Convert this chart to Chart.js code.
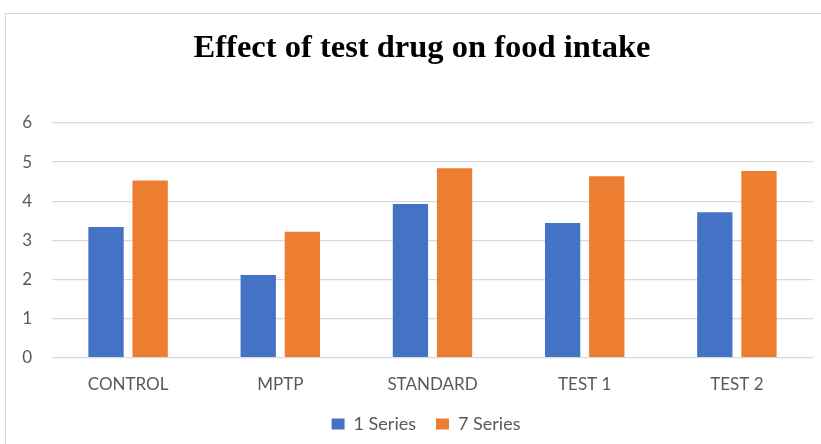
<!DOCTYPE html>
<html>
<head>
<meta charset="utf-8">
<script src="https://cdn.jsdelivr.net/npm/chart.js@4/dist/chart.umd.min.js"></script>
<style>
  html, body { margin: 0; padding: 0; background: #fff; overflow: hidden; }
  #wrap { width: 821px; height: 444px; position: relative; }
</style>
</head>
<body>
<div id="wrap"><canvas id="c" width="821" height="444"></canvas></div>
<script>
// Food intake per group
const categories = ['CONTROL', 'MPTP', 'STANDARD', 'TEST 1', 'TEST 2'];
const series1Label = '1 Series';
const series7Label = '7 Series';
const series1 = [3.34, 2.11, 3.93, 3.44, 3.72];
const series7 = [4.53, 3.22, 4.84, 4.64, 4.77];
const yTicks = [0, 1, 2, 3, 4, 5, 6];

const textGray = '#595959';
const labelFont = { family: 'Lato, "Open Sans", sans-serif', size: 17 };

// Light frame around the chart; title and legend sit centred on the wider frame,
// and legend entries get a wider gap between them than the layout padding
const framePlugin = {
  id: 'frame',
  afterLayout(chart) {
    const t = chart.titleBlock;
    if (t) { t.left += 13; t.right += 13; }
    const l = chart.legend;
    if (l) {
      l.options.labels.padding = 20;
      l.left += 8; l.right += 8;
      l.top -= 9; l.bottom -= 9;
    }
  },
  beforeDraw(chart) {
    const ctx = chart.ctx;
    ctx.save();
    ctx.strokeStyle = '#d9d9d9';
    ctx.lineWidth = 1;
    ctx.strokeRect(5.5, 13.5, 830, 440);
    ctx.restore();
  }
};

new Chart(document.getElementById('c'), {
  type: 'bar',
  data: {
    labels: categories,
    datasets: [
      { label: series1Label, data: series1, backgroundColor: '#4472C4',
        categoryPercentage: 0.58, barPercentage: 0.8 },
      { label: series7Label, data: series7, backgroundColor: '#ED7D31',
        categoryPercentage: 0.58, barPercentage: 0.8 }
    ]
  },
  options: {
    responsive: false,
    animation: false,
    layout: { padding: { left: 5, right: 8, top: 0, bottom: 1 } },
    plugins: {
      title: {
        display: true,
        text: 'Effect of test drug on food intake',
        color: '#000',
        font: { family: '"Liberation Serif", "DejaVu Serif", serif', size: 32.5, weight: 'bold' },
        padding: { top: 29, bottom: 55 }
      },
      legend: {
        position: 'bottom',
        labels: {
          color: textGray,
          font: { family: 'Lato, "Open Sans", sans-serif', size: 18 },
          boxWidth: 13, boxHeight: 11, padding: 11
        }
      },
      tooltip: { enabled: false }
    },
    scales: {
      x: {
        grid: { display: false },
        border: { display: false },
        ticks: { color: textGray, font: labelFont, padding: 9 }
      },
      y: {
        min: 0, max: 6,
        afterBuildTicks(scale) { scale.ticks = yTicks.map(v => ({ value: v })); },
        afterFit(scale) { scale.width = 47; },
        grid: { color: '#d9d9d9', lineWidth: 1.3, drawTicks: false },
        border: { display: false },
        ticks: { color: textGray, font: labelFont, padding: 20 }
      }
    }
  },
  plugins: [framePlugin]
});
</script>
</body>
</html>
